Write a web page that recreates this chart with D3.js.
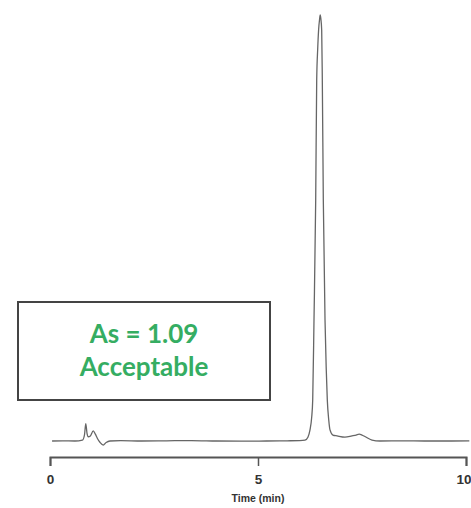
<!DOCTYPE html>
<html>
<head>
<meta charset="utf-8">
<script src="https://cdn.jsdelivr.net/npm/d3@7"></script>
<style>
  body { margin: 0; background: #fff; }
  .tick text { font-family: "Liberation Sans Narrow", "Liberation Sans", Arial, sans-serif; font-weight: bold; }
</style>
</head>
<body>
<div id="chart"></div>
<script>
// retention time (min) and detector signal (% of main peak height)
let times = [0.05, 0.3, 0.6, 0.78, 0.83, 0.86, 0.89, 0.92, 0.97, 1.04, 1.09, 1.14, 1.2, 1.28, 1.35, 1.44,
  1.7, 2.2, 2.8, 3.4, 4.0, 4.6, 5.2, 5.7, 6.0, 6.13, 6.2, 6.25, 6.29, 6.315, 6.346, 6.387, 6.411, 6.435,
  6.457, 6.48, 6.495, 6.51, 6.531, 6.546, 6.57, 6.611, 6.64, 6.666, 6.70, 6.731, 6.80, 6.90, 7.09, 7.26,
  7.36, 7.43, 7.5, 7.57, 7.74, 7.93, 8.5, 9.0, 9.5, 10.08];
let signal = [0, 0.05, 0, 0.2, 1.5, 4.1, 1.8, 1.0, 1.2, 2.4, 1.6, 0.6, -0.3, -0.95, -0.35, 0,
  0.1, 0, 0.05, 0.1, 0, -0.05, 0, 0.05, 0.1, 0.2, 0.9, 2.6, 5.5, 9.6, 28.4, 56.6, 84.7, 92,
  96.5, 99, 100, 99.2, 96.5, 84.7, 56.6, 28.4, 17, 9.6, 5, 2.6, 1.4, 1.2, 0.9, 1.2,
  1.4, 1.6, 1.4, 1.05, 0.23, 0, 0.05, 0, 0, 0.05];
let tickValues = [0, 5, 10];
let axisTitle = "Time (min)";
let boxLines = ["As = 1.09", "Acceptable"];

let width = 471, height = 508;

let svg = d3.select("#chart").append("svg")
  .attr("width", width).attr("height", height);

let x = d3.scaleLinear().domain([0, 10]).range([50, 466]);
let y = d3.scaleLinear().domain([0, 100]).range([441, 15]);

let points = times.map((t, i) => ({t: t, v: signal[i]}));

let line = d3.line()
  .x(d => x(d.t))
  .y(d => y(d.v))
  .curve(d3.curveMonotoneX);

svg.append("path")
  .datum(points)
  .attr("d", line)
  .attr("fill", "none")
  .attr("stroke", "#666")
  .attr("stroke-width", 1.3);

//axis sits below the baseline
let axis = svg.append("g")
  .attr("transform", "translate(0,457)")
  .call(d3.axisBottom(x).tickValues(tickValues).tickSize(9).tickPadding(8).tickFormat(d3.format("d")));
axis.select(".domain").attr("stroke", "#555").attr("stroke-width", 2);
axis.selectAll(".tick line").attr("stroke", "#555").attr("stroke-width", 1.5);
axis.selectAll(".tick text").attr("font-size", 13.5).attr("fill", "#333");
// last label would run past the right edge, so pull it in
axis.selectAll(".tick text").filter(d => d === 10).attr("text-anchor", "end").attr("x", 5);

svg.append("text")
  .attr("x", x(5))
  .attr("y", 502)
  .attr("text-anchor", "middle")
  .attr("font-family", "'Liberation Sans Narrow', 'Liberation Sans', Arial, sans-serif")
  .attr("font-weight", "bold")
  .attr("font-size", 10.5)
  .attr("fill", "#333")
  .text(axisTitle);

// annotation box
svg.append("rect")
  .attr("x", 18).attr("y", 302)
  .attr("width", 252).attr("height", 98)
  .attr("fill", "#fff")
  .attr("stroke", "#444")
  .attr("stroke-width", 2);

svg.selectAll(".box-text").data(boxLines).enter()
  .append("text")
  .attr("class", "box-text")
  .attr("x", 144)
  .attr("y", (d, i) => 343 + i * 33)
  .attr("text-anchor", "middle")
  .attr("font-family", "Lato, 'Open Sans', sans-serif")
  .attr("font-weight", "bold")
  .attr("font-size", 26)
  .attr("fill", "#35ad62")
  .text(d => d);
</script>
</body>
</html>
